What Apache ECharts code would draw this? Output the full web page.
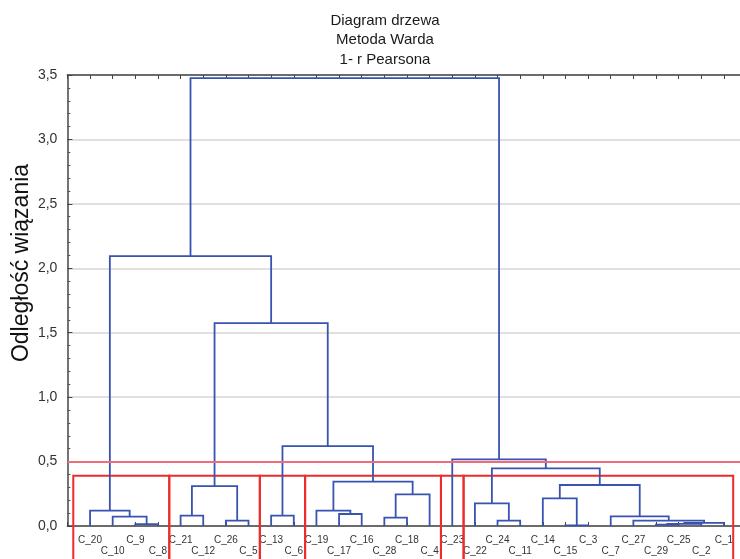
<!DOCTYPE html>
<html><head><meta charset="utf-8">
<script src="https://cdn.jsdelivr.net/npm/echarts@6/dist/echarts.min.js"></script>
<style>html,body{margin:0;padding:0;background:#fff}#c{width:740px;height:559px}</style>
</head><body><div id="c"></div>
<script>
// Leaves in dendrogram order
const leaves = ['C_20','C_10','C_9','C_8','C_21','C_12','C_26','C_5','C_13','C_6','C_19','C_17','C_16','C_28','C_18','C_4','C_23','C_22','C_24','C_11','C_14','C_15','C_3','C_7','C_27','C_29','C_25','C_2','C_1'];
// Merges (Ward linkage): left child, right child, linkage distance; 'nK' = result of merge K
const mergeLeft   = ['C_9','C_10','C_20','C_21','C_26','n3','C_13','C_17','C_19','C_28','n9','n8','n6','n5','n2','C_24','C_22','C_15','C_14','C_29','n19','n20','C_27','C_7','n18','n16','C_23','n14'];
const mergeRight  = ['C_8','n0','n1','C_12','C_5','n4','C_6','C_16','n7','C_18','C_4','n10','n11','n12','n13','C_11','n15','C_3','n17','C_25','C_2','C_1','n21','n22','n23','n24','n25','n26'];
const mergeHeight = [0.015,0.072,0.12,0.08,0.041,0.31,0.08,0.093,0.12,0.065,0.246,0.344,0.62,1.575,2.095,0.041,0.176,0.005,0.215,0.01,0.017,0.025,0.042,0.075,0.318,0.447,0.517,3.475];
// Y axis
const yMin = 0, yMax = 3.5, yStep = 0.5;
// Cut of the tree and resulting groups (number of leaves per group)
const cutLevel = 0.5;
const groupSizes = [4,4,2,6,1,12];
const groupBoxTop = 0.39;

const pos = {}, hgt = {};
leaves.forEach((l,i)=>{pos[l]=i; hgt[l]=0;});
const links = [];
mergeLeft.forEach((L,k)=>{
  const R = mergeRight[k], h = mergeHeight[k];
  links.push([pos[L], hgt[L], pos[R], hgt[R], h]);
  pos['n'+k] = (pos[L]+pos[R])/2; hgt['n'+k] = h;
});
const boxes = [];
let start = 0;
groupSizes.forEach((s,i)=>{
  const end = start + s - 1;
  const x0 = i===0 ? start-0.74 : start-0.5;
  const x1 = i===groupSizes.length-1 ? end+0.41 : end+0.5;
  boxes.push([x0, x1]);
  start = end + 1;
});
// plot is cut by the right edge of the picture
const xMin = -1, xMax = leaves.length - 0.29;

const chart = echarts.init(document.getElementById('c'), null, {renderer:'canvas'});
const FONT = 'Liberation Sans, Arial, sans-serif';
const axisCommon = {type:'value', min:xMin, max:xMax, interval:1,
  axisLine:{onZero:false, lineStyle:{color:'#444', width:1.5}},
  axisTick:{inside:true, length:4, lineStyle:{color:'#444'}},
  splitLine:{show:false}};
chart.setOption({
  animation:false,
  backgroundColor:'#fff',
  title:{text:'Diagram drzewa\nMetoda Warda\n1- r Pearsona', left:380, top:6, textAlign:'center',
    textStyle:{fontSize:15, lineHeight:19.5, fontWeight:'normal', color:'#1a1a1a', fontFamily:FONT}},
  graphic:[{type:'text', x:22, y:263, rotation:Math.PI/2,
    style:{text:'Odległość wiązania', fontSize:23, fontFamily:FONT, fill:'#111', align:'center', verticalAlign:'middle'}}],
  grid:{left:67.4, top:75, right:0, height:451, containLabel:false},
  xAxis:[Object.assign({}, axisCommon, {position:'bottom',
      axisLabel:{fontSize:10, lineHeight:11, margin:9, color:'#333', fontFamily:FONT,
        showMaxLabel:false,
        formatter:v=>{const i=Math.round(v); if(Math.abs(v-i)>1e-6||i<0||i>=leaves.length) return ''; return i%2 ? '\n'+leaves[i] : leaves[i];}}}),
    Object.assign({}, axisCommon, {position:'top', axisLabel:{show:false}})],
  yAxis:{type:'value', min:yMin, max:yMax, interval:yStep,
    axisLine:{show:true, onZero:false, lineStyle:{color:'#444', width:1.5}},
    axisTick:{show:true, inside:true, length:5, lineStyle:{color:'#444'}},
    minorTick:{show:true, splitNumber:5, length:3, lineStyle:{color:'#555'}},
    splitLine:{show:true, lineStyle:{color:'#d6d6d6', width:1.5}},
    axisLabel:{fontSize:14, color:'#333', margin:10, fontFamily:FONT,
      formatter:v=>v.toFixed(1).replace('.',',')}},
  series:[
    {type:'custom', name:'groups', clip:false, z:2, data:boxes,
      encode:{x:[0,1]},
      renderItem:(p,api)=>{
        const a = api.coord([api.value(0), groupBoxTop]);
        const b = api.coord([api.value(1), -0.5]);
        return {type:'rect', shape:{x:a[0], y:a[1], width:b[0]-a[0], height:b[1]-a[1]},
          style:{fill:'none', stroke:'#ee2b2b', lineWidth:2}};
      },
      markLine:{silent:true, symbol:'none', label:{show:false},
        lineStyle:{color:'#f26b78', width:2, type:'solid'}, data:[{yAxis:cutLevel}]}},
    {type:'custom', name:'tree', z:3, data:links,
      encode:{x:[0,2], y:[1,3,4]},
      renderItem:(p,api)=>{
        const a = api.coord([api.value(0), api.value(1)]);
        const b = api.coord([api.value(0), api.value(4)]);
        const c = api.coord([api.value(2), api.value(4)]);
        const d = api.coord([api.value(2), api.value(3)]);
        return {type:'polyline', shape:{points:[a,b,c,d]},
          style:{fill:'none', stroke:'#3953b0', lineWidth:1.8}};
      }}
  ]
});
</script></body></html>
